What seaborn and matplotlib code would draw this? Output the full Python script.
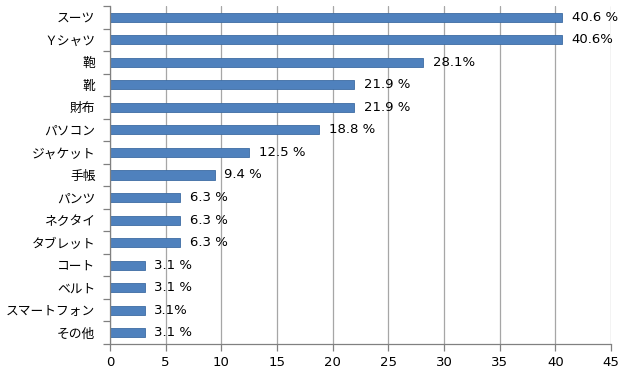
import matplotlib
matplotlib.use("Agg")
import matplotlib.pyplot as plt
import seaborn as sns
import pandas as pd
from matplotlib.ticker import FixedLocator

categories = ["スーツ", "Ｙシャツ", "鞄", "靴", "財布", "パソコン", "ジャケット", "手帳",
              "パンツ", "ネクタイ", "タブレット", "コート", "ベルト", "スマートフォン", "その他"]
values = [40.6, 40.6, 28.1, 21.9, 21.9, 18.8, 12.5, 9.4, 6.3, 6.3, 6.3, 3.1, 3.1, 3.1, 3.1]
value_labels = ["40.6 %", "40.6%", "28.1%", "21.9 %", "21.9 %", "18.8 %", "12.5 %", "9.4 %",
                "6.3 %", "6.3 %", "6.3 %", "3.1 %", "3.1 %", "3.1%", "3.1 %"]
x_ticks = [0, 5, 10, 15, 20, 25, 30, 35, 40, 45]

sns.set_theme(style="white")
plt.rcParams["font.family"] = ["Noto Sans CJK JP", "DejaVu Sans"]

df = pd.DataFrame({"item": categories, "value": values})

fig = plt.figure(figsize=(6.31, 3.75), dpi=100)
ax = fig.add_axes([110 / 631, 1 - 344 / 375, (611 - 110) / 631, (344 - 6) / 375])

sns.barplot(data=df, x="value", y="item", orient="h", color="#4F81BD",
            saturation=1, width=0.4, edgecolor="#3D6CA3", linewidth=0.6, ax=ax)

ax.set_xlim(0, 45)
ax.set_ylim(len(categories) - 0.5, -0.5)
ax.set_xticks(x_ticks)
ax.set_xticklabels([str(t) for t in x_ticks], family="DejaVu Sans", fontsize=9.5)
ax.xaxis.grid(True, color="#A6A6A6", linewidth=0.9)
ax.yaxis.grid(False)
ax.set_axisbelow(True)

ax.set_yticks(range(len(categories)))
ax.set_yticklabels(categories, fontsize=9.2)
ax.tick_params(axis="y", which="major", length=0, pad=10.5, colors="black")
ax.yaxis.set_minor_locator(FixedLocator([i - 0.5 for i in range(len(categories) + 1)]))
ax.tick_params(axis="y", which="minor", length=5, width=0.9, color="#808080", left=True)
ax.tick_params(axis="x", which="major", length=5, width=0.9, color="#808080", bottom=True,
               pad=4, labelcolor="black")

for s in ["top", "right"]:
    ax.spines[s].set_visible(False)
for s in ["left", "bottom"]:
    ax.spines[s].set_color("#808080")
    ax.spines[s].set_linewidth(0.9)

ax.set_xlabel("")
ax.set_ylabel("")

for i, (v, lab) in enumerate(zip(values, value_labels)):
    ax.annotate(lab, xy=(v, i), xytext=(7, 0), textcoords="offset points",
                va="center", ha="left", fontsize=9.5, family="DejaVu Sans", color="black")

fig.savefig("out.png", dpi=100)
